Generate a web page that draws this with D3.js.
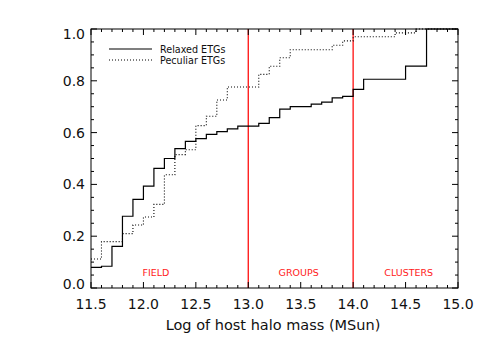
<!DOCTYPE html>
<html><head><meta charset="utf-8">
<script src="https://cdn.jsdelivr.net/npm/d3@7"></script>
<style>body{margin:0;background:#fff}svg{display:block}</style>
</head><body>
<script>
// Data (cumulative fractions, step functions)
const relaxedMass = [11.5,11.6,11.7,11.8,11.9,12.0,12.1,12.2,12.3,12.4,12.5,12.6,12.7,12.8,12.9,13.1,13.2,13.3,13.4,13.6,13.7,13.8,13.9,14.0,14.1,14.5,14.7,15.0];
const relaxedFrac = [0.080,0.084,0.161,0.277,0.342,0.393,0.462,0.500,0.538,0.566,0.577,0.593,0.604,0.614,0.625,0.636,0.658,0.691,0.700,0.710,0.718,0.734,0.740,0.767,0.806,0.857,1.0,1.0];
const peculiarMass = [11.5,11.6,11.8,11.9,12.0,12.1,12.2,12.3,12.4,12.5,12.6,12.7,12.8,13.1,13.2,13.3,13.4,13.8,13.9,14.0,14.4,14.6,15.0];
const peculiarFrac = [0.112,0.179,0.210,0.243,0.274,0.323,0.437,0.515,0.534,0.627,0.663,0.726,0.776,0.825,0.856,0.889,0.920,0.937,0.954,0.970,0.985,1.0,1.0];
const boundaries = [13.0, 14.0];
const regionLabels = ["FIELD","GROUPS","CLUSTERS"];
const regionCenters = [12.12, 13.48, 14.53];
const xTicks = [11.5,12.0,12.5,13.0,13.5,14.0,14.5,15.0];
const yTicks = [0.0,0.2,0.4,0.6,0.8,1.0];
const seriesNames = ["Relaxed ETGs","Peculiar ETGs"];

const W=485,H=346;
const svg=d3.select("body").append("svg").attr("width",W).attr("height",H);
const x=d3.scaleLinear().domain([11.5,15]).range([91,458]);
const y=d3.scaleLinear().domain([0,1]).range([288,29]);
const font="DejaVu Sans, Liberation Sans, sans-serif";

// red boundaries
svg.selectAll("line.bd").data(boundaries).enter().append("line")
  .attr("x1",d=>x(d)).attr("x2",d=>x(d)).attr("y1",y(0)).attr("y2",y(1))
  .attr("stroke","#ff2020").attr("stroke-width",1.4);
svg.selectAll("text.reg").data(regionLabels).enter().append("text")
  .attr("x",(d,i)=>x(regionCenters[i])).attr("y",275.5)
  .attr("text-anchor","middle").attr("font-family",font).attr("font-size","9.5px")
  .attr("fill","#ff2020").text(d=>d);

// step lines
const line=d3.line().x(d=>x(d[0])).y(d=>y(d[1])).curve(d3.curveStepAfter);
svg.append("path").datum(relaxedMass.map((m,i)=>[m,relaxedFrac[i]]))
  .attr("d",line).attr("fill","none").attr("stroke","#000").attr("stroke-width",1.2);
svg.append("path").datum(peculiarMass.map((m,i)=>[m,peculiarFrac[i]]))
  .attr("d",line).attr("fill","none").attr("stroke","#000").attr("stroke-width",1.1)
  .attr("stroke-dasharray","1,2");

// frame
svg.append("rect").attr("x",x(11.5)).attr("y",y(1)).attr("width",x(15)-x(11.5)).attr("height",y(0)-y(1))
  .attr("fill","none").attr("stroke","#000").attr("stroke-width",1);

// ticks
const xMinor=d3.range(0,36).map(i=>11.5+i*0.1);
const yMinor=d3.range(0,21).map(i=>i*0.05);
const isMajX=v=>Math.abs(v*2-Math.round(v*2))<1e-6;
const isMajY=v=>Math.abs(v*5-Math.round(v*5))<1e-6;
const tk=svg.append("g").attr("stroke","#000").attr("stroke-width",1);
xMinor.forEach(v=>{
  const L=isMajX(v)?6:3;
  tk.append("line").attr("x1",x(v)).attr("x2",x(v)).attr("y1",y(0)).attr("y2",y(0)-L);
  tk.append("line").attr("x1",x(v)).attr("x2",x(v)).attr("y1",y(1)).attr("y2",y(1)+L);
});
yMinor.forEach(v=>{
  const L=isMajY(v)?6:3;
  tk.append("line").attr("x1",x(11.5)).attr("x2",x(11.5)+L).attr("y1",y(v)).attr("y2",y(v));
  tk.append("line").attr("x1",x(15)).attr("x2",x(15)-L).attr("y1",y(v)).attr("y2",y(v));
});

// tick labels
svg.selectAll("text.xt").data(xTicks).enter().append("text")
  .attr("x",d=>x(d)).attr("y",309).attr("text-anchor","middle")
  .attr("font-family",font).attr("font-size","14px").attr("fill","#111").text(d=>d.toFixed(1));
svg.selectAll("text.yt").data(yTicks).enter().append("text")
  .attr("x",85).attr("y",d=>{let c=y(d);if(d===1)c=34.3;if(d===0)c=283.5;return c+5;})
  .attr("text-anchor","end")
  .attr("font-family",font).attr("font-size","14px").attr("fill","#111").text(d=>d.toFixed(1));

// axis title
svg.append("text").attr("x",273).attr("y",330).attr("text-anchor","middle")
  .attr("font-family",font).attr("font-size","14.5px").attr("fill","#111").text("Log of host halo mass (MSun)");

// legend
const lg=svg.append("g");
[49,60].forEach((yy,i)=>{
  lg.append("line").attr("x1",109).attr("x2",152).attr("y1",yy).attr("y2",yy)
    .attr("stroke","#000").attr("stroke-width",i?1.1:1.2).attr("stroke-dasharray",i?"1,2":null);
  lg.append("text").attr("x",160).attr("y",yy+3.5).attr("font-family",font).attr("font-size","9.6px")
    .attr("fill","#111").text(seriesNames[i]);
});
</script>
</body></html>
